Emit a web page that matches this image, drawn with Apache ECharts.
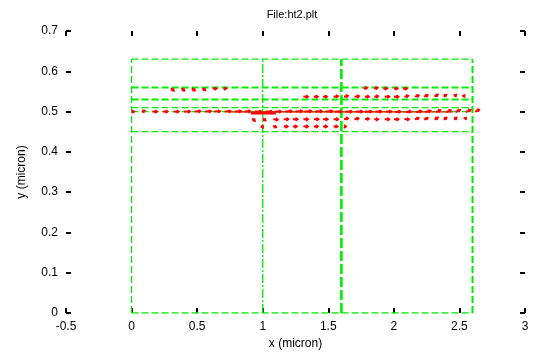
<!DOCTYPE html>
<html>
<head>
<meta charset="utf-8">
<script src="https://cdn.jsdelivr.net/npm/echarts@6/dist/echarts.min.js"></script>
<style>
  html, body { margin: 0; padding: 0; background: #fff; }
  #chart { width: 540px; height: 361px; }
</style>
</head>
<body>
<div id="chart"></div>
<script>
// ====== ht2.plt: vector field over device layers ======
var xTicks = { min: -0.5, max: 3, step: 0.5 };
var yTicks = { min: 0, max: 0.7, step: 0.1 };

// green region outlines: [[x1, y1], [x2, y2]]
var greenThin = [
  [[0, 0], [2.6, 0]],
  [[0, 0], [0, 0.63]],
  [[0, 0.63], [2.6, 0.63]],
  [[0, 0.51], [2.6, 0.51]],
  [[0, 0.50], [2.6, 0.50]],
  [[0, 0.45], [2.6, 0.45]]
];
var greenDashDot = [
  [[1, 0], [1, 0.63]]
];
var greenThick = [
  [[0, 0.56], [2.6, 0.56]],
  [[0, 0.53], [2.6, 0.53]],
  [[2.6, 0], [2.6, 0.63]]
];
var greenHeavy = [
  [[1.6, 0], [1.6, 0.63]]
];

// vectors: [x, y, dx, dy]
var rowA = [
  [0.30, 0.558, 0.022, -0.006], [0.38, 0.558, 0.022, -0.006], [0.46, 0.558, 0.022, -0.006],
  [0.54, 0.558, 0.022, -0.005], [0.62, 0.557, 0.028, 0], [0.70, 0.557, 0.022, 0],
  [1.77, 0.557, 0.025, 0.002], [1.85, 0.557, 0.025, 0.002], [1.92, 0.557, 0.028, 0],
  [2.00, 0.557, 0.028, 0], [2.07, 0.557, 0.03, 0]
];
var rowB = [
  [1.31, 0.537, 0.035, 0], [1.39, 0.537, 0.03, 0], [1.46, 0.537, 0.03, 0],
  [1.54, 0.537, 0.035, 0.001], [1.62, 0.537, 0.03, 0.002], [1.70, 0.537, 0.035, 0.001],
  [1.78, 0.537, 0.03, 0], [1.85, 0.537, 0.03, 0.001], [1.93, 0.537, 0.035, 0],
  [2.00, 0.537, 0.035, 0], [2.08, 0.537, 0.03, 0.002], [2.16, 0.537, 0.03, 0.003],
  [2.23, 0.537, 0.028, 0.004], [2.31, 0.537, 0.025, 0.005], [2.38, 0.537, 0.02, 0.005],
  [2.46, 0.537, 0.015, 0.005], [2.53, 0.536, 0.008, 0.005]
];
var rowC = [
  [0.00, 0.500, 0.02, 0], [0.08, 0.499, 0.02, 0.003], [0.16, 0.500, 0.035, 0],
  [0.24, 0.500, 0.035, 0], [0.32, 0.500, 0.04, 0], [0.40, 0.500, 0.045, 0],
  [0.48, 0.500, 0.045, 0.001], [0.56, 0.500, 0.045, 0.001], [0.63, 0.500, 0.045, 0.001],
  [0.71, 0.500, 0.045, 0.001], [0.79, 0.500, 0.045, 0.001], [0.86, 0.500, 0.045, 0.001],
  [0.94, 0.500, 0.05, 0], [1.02, 0.500, 0.05, 0], [1.09, 0.500, 0.05, 0],
  [1.17, 0.500, 0.05, 0.001], [1.25, 0.500, 0.05, 0.001], [1.32, 0.500, 0.05, 0.001],
  [1.40, 0.500, 0.05, 0.001], [1.48, 0.500, 0.05, 0.001], [1.55, 0.500, 0.05, 0],
  [1.63, 0.500, 0.05, 0], [1.71, 0.500, 0.05, 0], [1.78, 0.500, 0.05, 0],
  [1.86, 0.500, 0.045, 0], [1.94, 0.500, 0.04, 0], [2.01, 0.499, 0.04, 0.001],
  [2.09, 0.499, 0.04, 0.001], [2.17, 0.499, 0.04, 0.002], [2.24, 0.499, 0.04, 0.003],
  [2.32, 0.499, 0.035, 0.004], [2.40, 0.499, 0.035, 0.004], [2.47, 0.499, 0.035, 0.005],
  [2.55, 0.499, 0.035, 0.005], [2.62, 0.499, 0.03, 0.006]
];
var rowD = [
  [0.92, 0.483, 0.02, -0.006], [1.00, 0.483, 0.022, -0.005], [1.08, 0.481, 0.035, -0.001],
  [1.16, 0.481, 0.035, 0], [1.23, 0.481, 0.035, 0], [1.31, 0.481, 0.035, 0],
  [1.39, 0.481, 0.035, 0], [1.46, 0.481, 0.035, 0], [1.54, 0.481, 0.035, 0],
  [1.62, 0.481, 0.03, 0.002], [1.70, 0.481, 0.03, 0.002], [1.78, 0.481, 0.03, 0.001],
  [1.85, 0.481, 0.03, 0], [1.93, 0.481, 0.035, 0], [2.00, 0.481, 0.035, 0],
  [2.08, 0.481, 0.035, 0], [2.16, 0.481, 0.03, 0.003], [2.23, 0.480, 0.028, 0.004],
  [2.31, 0.480, 0.025, 0.005], [2.38, 0.480, 0.022, 0.005], [2.46, 0.480, 0.018, 0.005],
  [2.54, 0.481, 0.01, 0.004]
];
var rowE = [
  [0.99, 0.466, 0.012, -0.006], [1.08, 0.465, 0.022, -0.004], [1.16, 0.463, 0.03, 0],
  [1.23, 0.463, 0.03, 0], [1.31, 0.463, 0.035, 0], [1.39, 0.463, 0.03, 0],
  [1.46, 0.463, 0.03, 0], [1.54, 0.463, 0.03, 0], [1.62, 0.463, 0.015, 0]
];
// overlapping vectors near the interface
var redBand = [[0.75, 0.499], [2.45, 0.499]];
var redDense = [[0.91, 0.496], [1.10, 0.496]];

var ink = '#000';
var green = '#00ee00';
var red = '#ff0000';
var font = 'Liberation Sans, Arial, sans-serif';

var chart = echarts.init(document.getElementById('chart'), null, { renderer: 'canvas' });

function segSeries(segs, width, dash) {
  return segs.map(function (s) {
    return {
      type: 'line', data: s, symbol: 'none', silent: true, z: 2,
      lineStyle: { color: green, width: width, type: dash }
    };
  });
}

function arrowItem(params, api) {
  var x = api.value(0), y = api.value(1), dx = api.value(2), dy = api.value(3);
  var p0 = api.coord([x, y]);
  var p1 = api.coord([x + dx, y + dy]);
  var a = Math.atan2(p1[1] - p0[1], p1[0] - p0[0]);
  var hl = 2.5;
  var h1 = [p1[0] - hl * Math.cos(a - 0.6), p1[1] - hl * Math.sin(a - 0.6)];
  var h2 = [p1[0] - hl * Math.cos(a + 0.6), p1[1] - hl * Math.sin(a + 0.6)];
  return {
    type: 'group',
    children: [
      { type: 'line', shape: { x1: p0[0], y1: p0[1], x2: p1[0], y2: p1[1] },
        style: { stroke: red, lineWidth: 2 } },
      { type: 'polyline', shape: { points: [h1, p1, h2] },
        style: { stroke: red, fill: null, lineWidth: 1.8 } }
    ]
  };
}

function axisBase(extra) {
  var o = {
    type: 'value',
    axisLine: { show: false, onZero: false },
    axisTick: { inside: true, length: 5, lineStyle: { color: ink, width: 2 } },
    splitLine: { show: false },
    axisLabel: { color: ink, fontSize: 12, fontFamily: font }
  };
  for (var k in extra) o[k] = extra[k];
  return o;
}

var arrows = rowA.concat(rowB, rowC, rowD, rowE);

chart.setOption({
  animation: false,
  title: {
    text: 'File:ht2.plt', left: 287, top: 4, textAlign: 'center',
    textStyle: { color: ink, fontSize: 11, fontWeight: 'normal', fontFamily: font }
  },
  grid: { left: 66, right: 15, top: 31, bottom: 48 },
  xAxis: [
    axisBase({
      min: xTicks.min, max: xTicks.max, interval: xTicks.step, position: 'bottom',
      name: 'x (micron)', nameLocation: 'middle', nameGap: 25,
      nameTextStyle: { color: ink, fontSize: 12, fontFamily: font }
    }),
    axisBase({
      min: xTicks.min, max: xTicks.max, interval: xTicks.step, position: 'top',
      axisLabel: { show: false }
    })
  ],
  yAxis: [
    axisBase({
      min: yTicks.min, max: yTicks.max, interval: yTicks.step, position: 'left',
      name: 'y (micron)', nameLocation: 'middle', nameGap: 38,
      nameTextStyle: { color: ink, fontSize: 12, fontFamily: font }
    }),
    axisBase({
      min: yTicks.min, max: yTicks.max, interval: yTicks.step, position: 'right',
      axisLabel: { show: false }
    })
  ],
  series: [].concat(
    segSeries(greenThin, 1.3, [7, 3]),
    segSeries(greenDashDot, 1.3, [9, 2, 2, 2]),
    segSeries(greenThick, 2, [7, 3]),
    segSeries(greenHeavy, 2.6, [10, 3]),
    [
      { type: 'line', data: redBand, symbol: 'none', silent: true, z: 3,
        lineStyle: { color: red, width: 1 } },
      { type: 'line', data: redDense, symbol: 'none', silent: true, z: 3,
        lineStyle: { color: red, width: 2.5 } },
      { type: 'custom', data: arrows, renderItem: arrowItem, silent: true, z: 4,
        encode: { x: 0, y: 1 } }
    ]
  )
});

window.addEventListener('resize', function () { chart.resize(); });
</script>
</body>
</html>
